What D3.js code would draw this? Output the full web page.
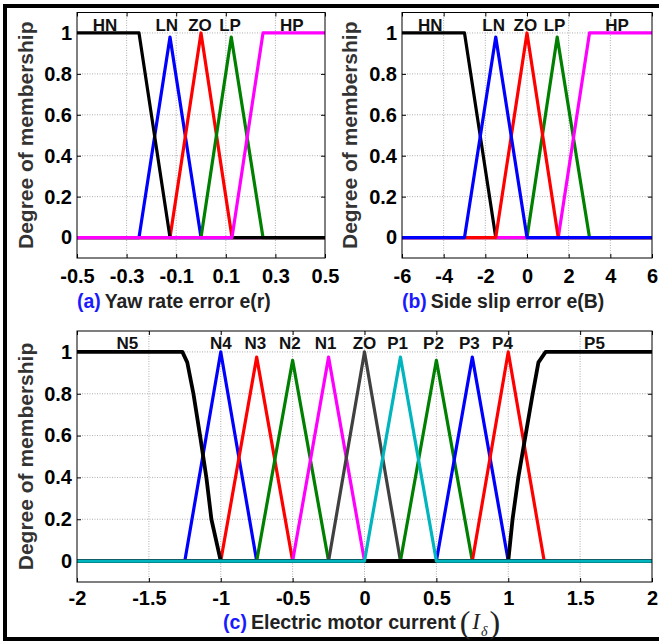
<!doctype html>
<html lang="en">
<head>
<meta charset="utf-8">
<title>membership functions</title>
<style>
body { margin: 0; background: #fff; }
svg { display: block; font-family: "Liberation Sans", Arial, sans-serif; }
</style>
</head>
<body>
<div id="chart"></div>
<script src="https://d3js.org/d3.v7.min.js"></script>
<script>
// ---------- (a) yaw rate error
var aTicks = [-0.5, -0.3, -0.1, 0.1, 0.3, 0.5];
var aHN = [[-0.5,1],[-0.25,1],[-0.125,0],[0.5,0]];
var aLN = [[-0.5,0],[-0.25,0],[-0.125,0.98],[0,0],[0.5,0]];
var aZO = [[-0.5,0],[-0.125,0],[0,1],[0.125,0],[0.5,0]];
var aLP = [[-0.5,0],[0,0],[0.122,0.98],[0.25,0],[0.5,0]];
var aHP = [[-0.5,0],[0.125,0],[0.25,1],[0.5,1]];
var aNames = ["HN", "LN", "ZO", "LP", "HP"];
var aNameX = [-0.387, -0.138, -0.004, 0.117, 0.366];

// ---------- (b) side slip error
var bTicks = [-6, -4, -2, 0, 2, 4, 6];
var bHN = [[-6,1],[-3,1],[-1.5,0],[6,0]];
var bLN = [[-6,0],[-3,0],[-1.5,0.98],[0,0],[6,0]];
var bZO = [[-6,0],[-1.5,0],[0,1],[1.5,0],[6,0]];
var bLP = [[-6,0],[0,0],[1.45,0.98],[3,0],[6,0]];
var bHP = [[-6,0],[1.5,0],[3,1],[6,1]];
var bNames = ["HN", "LN", "ZO", "LP", "HP"];
var bNameX = [-4.64, -1.6, -0.08, 1.32, 4.32];

// ---------- (c) electric motor current
var cTicks = [-2, -1.5, -1, -0.5, 0, 0.5, 1, 1.5, 2];
var cN5 = [[-2,1],[-1.267,1],[-1.233,0.95],[-1.19,0.8],[-1.144,0.6],[-1.1,0.4],[-1.065,0.2],[-1,0],[2,0]];
var cN4 = [[-2,0],[-1.25,0],[-1,1],[-0.75,0],[2,0]];
var cN3 = [[-2,0],[-1,0],[-0.75,0.975],[-0.5,0],[2,0]];
var cN2 = [[-2,0],[-0.75,0],[-0.5,0.96],[-0.25,0],[2,0]];
var cN1 = [[-2,0],[-0.5,0],[-0.25,0.975],[0,0],[2,0]];
var cZO = [[-2,0],[-0.25,0],[0,1],[0.25,0],[2,0]];
var cP1 = [[-2,0],[0,0],[0.25,0.975],[0.5,0],[2,0]];
var cP2 = [[-2,0],[0.25,0],[0.5,0.96],[0.75,0],[2,0]];
var cP3 = [[-2,0],[0.5,0],[0.75,0.975],[1,0],[2,0]];
var cP4 = [[-2,0],[0.75,0],[1,1],[1.25,0],[2,0]];
var cP5 = [[-2,0],[1,0],[1.03,0.2],[1.07,0.4],[1.12,0.6],[1.17,0.8],[1.21,0.95],[1.26,1],[2,1]];
var cNames = ["N5", "N4", "N3", "N2", "N1", "ZO", "P1", "P2", "P3", "P4", "P5"];
var cNameX = [-1.65, -1.0, -0.76, -0.52, -0.27, 0.0, 0.23, 0.48, 0.73, 0.96, 1.6];

var yTicks = [0, 0.2, 0.4, 0.6, 0.8, 1];

var svg = d3.select("#chart").append("svg")
    .attr("width", 659)
    .attr("height", 641);

svg.append("rect").attr("width", 659).attr("height", 641).attr("fill", "#fff");

// outer frame (top, left, bottom)
svg.append("path")
    .attr("d", "M659,6 H5 V639 H659")
    .attr("fill", "none")
    .attr("stroke", "#000")
    .attr("stroke-width", 4);

function panel(p) {
  var x = d3.scaleLinear().domain(p.xDomain).range([p.left, p.right]);
  var y = d3.scaleLinear().domain([-0.1, 1.1]).range([p.bottom, p.top]);
  var g = svg.append("g");

  // grid
  g.selectAll(".gx").data(p.xTicks.slice(1, -1)).enter().append("line")
      .attr("x1", d => x(d)).attr("x2", d => x(d))
      .attr("y1", p.top).attr("y2", p.bottom)
      .attr("stroke", "#999").attr("stroke-width", 0.8).attr("stroke-dasharray", "1,1.5");
  g.selectAll(".gy").data(yTicks).enter().append("line")
      .attr("x1", p.left).attr("x2", p.right)
      .attr("y1", d => y(d)).attr("y2", d => y(d))
      .attr("stroke", "#999").attr("stroke-width", 0.8).attr("stroke-dasharray", "1,1.5");

  // axes, ticks pointing inwards on all four sides
  var fmt = d => String(d);
  var ax = [
    g.append("g").attr("transform", "translate(0," + p.bottom + ")")
      .call(d3.axisBottom(x).tickValues(p.xTicks).tickSizeInner(-4).tickSizeOuter(0).tickPadding(p.xPad).tickFormat(fmt)),
    g.append("g").attr("transform", "translate(0," + p.top + ")")
      .call(d3.axisTop(x).tickValues(p.xTicks).tickSizeInner(-4).tickSizeOuter(0).tickFormat("")),
    g.append("g").attr("transform", "translate(" + p.left + ",0)")
      .call(d3.axisLeft(y).tickValues(yTicks).tickSizeInner(-4).tickSizeOuter(0).tickPadding(5).tickFormat(fmt)),
    g.append("g").attr("transform", "translate(" + p.right + ",0)")
      .call(d3.axisRight(y).tickValues(yTicks).tickSizeInner(-4).tickSizeOuter(0).tickFormat(""))
  ];
  ax.forEach(function(a) {
    a.attr("font-family", null).attr("font-size", null);
    a.select(".domain").remove();
    a.selectAll("line").attr("stroke", "#000");
    a.selectAll("text").attr("fill", "#000").style("font-size", "20px").style("font-weight", "bold");
  });

  // curves
  var line = d3.line().x(d => x(d[0])).y(d => y(d[1]));
  p.series.forEach(function(s) {
    g.append("path").datum(s.data)
        .attr("d", line)
        .attr("fill", "none")
        .attr("stroke", s.color)
        .attr("stroke-width", s.w || 3.2)
        .attr("stroke-linejoin", "round");
  });

  // box
  g.append("rect")
      .attr("x", p.left).attr("y", p.top)
      .attr("width", p.right - p.left).attr("height", p.bottom - p.top)
      .attr("fill", "none").attr("stroke", "#000").attr("stroke-width", 1);

  // set names
  g.selectAll(".nm").data(p.names).enter().append("text")
      .attr("x", (d, i) => x(p.nameX[i]))
      .attr("y", y(1.012))
      .attr("text-anchor", "middle")
      .style("font-size", "17px").style("font-weight", "bold")
      .attr("fill", "#111")
      .text(d => d);

  // y label
  g.append("text")
      .attr("transform", "translate(" + p.ylabX + "," + ((p.top + p.bottom) / 2) + ") rotate(-90)")
      .attr("text-anchor", "middle")
      .attr("dominant-baseline", "central")
      .style("font-size", "21px").style("font-weight", "bold")
      .attr("fill", "#333")
      .text("Degree of membership");
}

panel({
  xDomain: [-0.5, 0.5], left: 77, right: 325, top: 12.5, bottom: 258,
  xTicks: aTicks, xPad: 11, ylabX: 25,
  names: aNames, nameX: aNameX,
  series: [
    {data: aLN, color: "#0000ff"},
    {data: aZO, color: "#ff0000"},
    {data: aLP, color: "#008000"},
    {data: aHN, color: "#000000"},
    {data: aHP, color: "#ff00ff"}
  ]
});

panel({
  xDomain: [-6, 6], left: 402, right: 652, top: 12.5, bottom: 258,
  xTicks: bTicks, xPad: 11, ylabX: 349,
  names: bNames, nameX: bNameX,
  series: [
    {data: bHN, color: "#000000"},
    {data: bLP, color: "#008000"},
    {data: bHP, color: "#ff00ff"},
    {data: bZO, color: "#ff0000"},
    {data: bLN, color: "#0000ff"}
  ]
});

panel({
  xDomain: [-2, 2], left: 77, right: 652, top: 331, bottom: 582,
  xTicks: cTicks, xPad: 9, ylabX: 25,
  names: cNames, nameX: cNameX,
  series: [
    {data: cN4, color: "#0000ff"},
    {data: cN3, color: "#ff0000"},
    {data: cN2, color: "#008000"},
    {data: cN1, color: "#ff00ff"},
    {data: cZO, color: "#404040"},
    {data: cP2, color: "#008000"},
    {data: cP3, color: "#0000ff"},
    {data: cP4, color: "#ff0000"},
    {data: cN5, color: "#000000", w: 3.8},
    {data: cP5, color: "#000000", w: 3.8},
    {data: cP1, color: "#00b5bd"}
  ]
});

// titles
function title(x0, y0, tag, rest, fs) {
  var t = svg.append("text").attr("x", x0).attr("y", y0)
      .style("font-size", fs + "px").style("font-weight", "bold");
  t.append("tspan").attr("fill", "#1a1aff").text(tag);
  t.append("tspan").attr("fill", "#222").attr("dx", 4).text(rest);
  return t;
}
title(77, 308, "(a)", "Yaw rate error e(r)", 19.4);
title(402, 308, "(b)", "Side slip error e(B)", 19.4);
var tc = title(223, 629, "(c)", "Electric motor current", 19.6);
var mx = 223 + tc.node().getComputedTextLength() + 8;

var m = svg.append("text").attr("x", mx).attr("y", 633)
    .attr("fill", "#222")
    .style("font-family", "'Liberation Serif', 'Times New Roman', serif");
m.append("tspan").style("font-size", "32px").text("(");
m.append("tspan").attr("dx", 2).attr("dy", -4).style("font-size", "23px").style("font-style", "italic").text("I");
m.append("tspan").attr("dx", 1).attr("dy", 7).style("font-size", "14px").style("font-style", "italic").text("δ");
m.append("tspan").attr("dx", 2).attr("dy", -3).style("font-size", "32px").text(")");
</script>
</body>
</html>
